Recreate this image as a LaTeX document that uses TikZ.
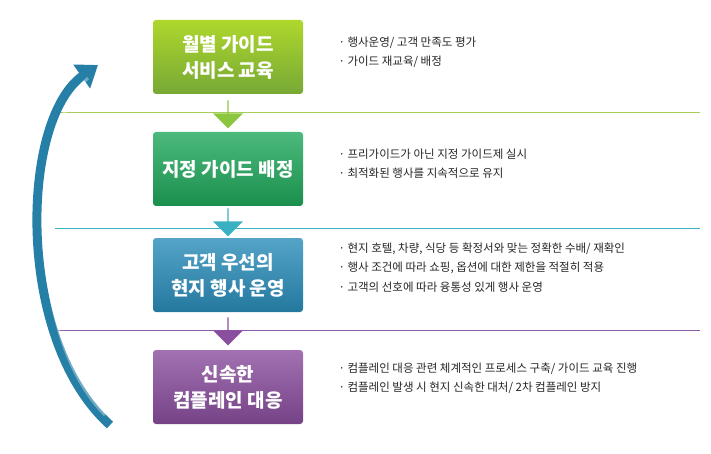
\documentclass[tikz,border=0pt]{standalone}
\usepackage{fontspec}
\newfontfamily\kr{Noto Sans CJK KR}
\usetikzlibrary{arrows.meta,shapes.arrows}
\definecolor{gA}{HTML}{8CC63F}\definecolor{gB}{HTML}{1FA85B}
\definecolor{gC}{HTML}{2A8DBA}\definecolor{gD}{HTML}{8A4E9E}
\definecolor{lA}{HTML}{A6CC5A}\definecolor{lC}{HTML}{39B1C2}\definecolor{lD}{HTML}{8E5EA6}
\tikzset{
 box/.style={rounded corners=3pt,minimum width=150pt,minimum height=74pt,align=center,text=white,font=\kr\bfseries\fontsize{19}{26}\selectfont},
 note/.style={anchor=north west,align=left,font=\kr\fontsize{11.5}{19.5}\selectfont,text=black!85},
 sep/.style={line width=1pt},
 dn/.style={single arrow,shape border rotate=270,minimum width=30pt,single arrow head extend=4pt,minimum height=28pt,inner sep=0pt}
}
\begin{document}
\begin{tikzpicture}[x=1pt,y=-1pt]
\useasboundingbox (0,0) rectangle (711,454);
\draw[sep,lA] (55,113) -- (700,113);
\draw[sep,lC] (55,228) -- (700,228);
\draw[sep,lD] (55,330) -- (700,330);
\node[box,top color=gA!70!yellow,bottom color=gA!85!black] (b1) at (228,57) {월별 가이드\\서비스 교육};
\node[box,top color=gB!80!white,bottom color=gB!85!black] (b2) at (228,169) {지정 가이드 배정};
\node[box,top color=gC!80!white,bottom color=gC!85!black] (b3) at (228,275) {고객 우선의\\현지 행사 운영};
\node[box,top color=gD!80!white,bottom color=gD!85!black] (b4) at (228,387) {신속한\\컴플레인 대응};
\node[dn,fill=gA] (a1) at (228,114) {};
\node[dn,fill=lC] (a2) at (228,222) {};
\node[dn,fill=gD] (a3) at (228,331) {};
\node[note] (t1) at (335,33) {· 행사운영/ 고객 만족도 평가\\· 가이드 재교육/ 배정};
\node[note] (t2) at (335,145) {· 프리가이드가 아닌 지정 가이드제 실시\\· 최적화된 행사를 지속적으로 유지};
\node[note] (t3) at (335,239) {· 현지 호텔, 차량, 식당 등 확정서와 맞는 정확한 수배/ 재확인\\· 행사 조건에 따라 쇼핑, 옵션에 대한 제한을 적절히 적용\\· 고객의 선호에 따라 융통성 있게 행사 운영};
\node[note] (t4) at (335,359) {· 컴플레인 대응 관련 체계적인 프로세스 구축/ 가이드 교육 진행\\· 컴플레인 발생 시 현지 신속한 대처/ 2차 컴플레인 방지};
\coordinate (s) at (110,425);
\coordinate (e) at (98,65);
\draw[line width=9pt,color=gC!90!black,-{Triangle[length=20pt,width=28pt]}] (s) .. controls (15,340) and (20,120) .. (e);
\draw[line width=3pt,color=white,opacity=0.35] (105,415) .. controls (25,335) and (30,130) .. (88,78);
\end{tikzpicture}
\end{document}
